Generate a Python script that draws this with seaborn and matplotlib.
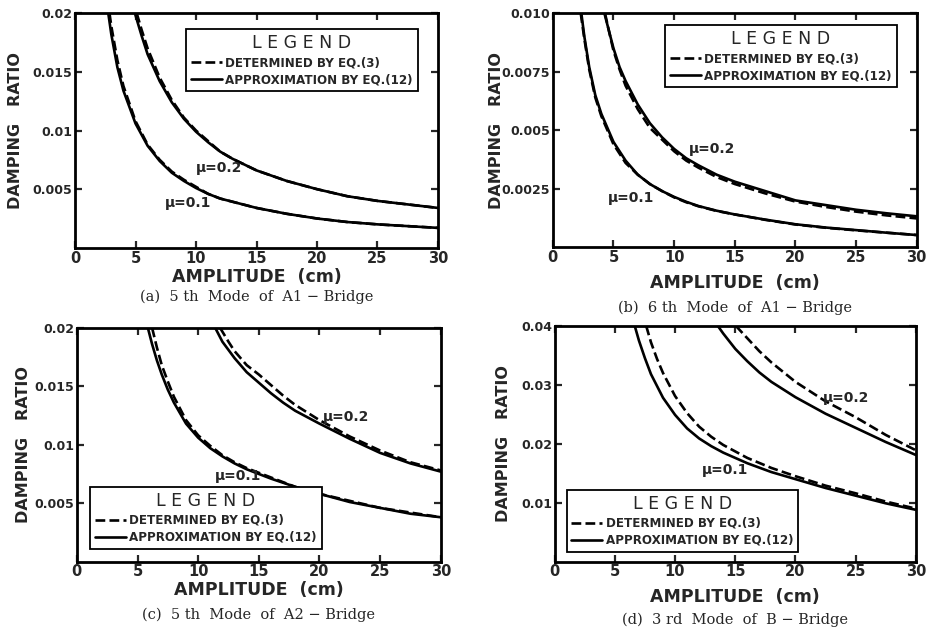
import numpy as np
import pandas as pd
import seaborn as sns
import matplotlib.pyplot as plt
from matplotlib.lines import Line2D

# === data ===
# (a) 5th mode of A1-Bridge
a_x1_s = [2.75, 3, 3.5, 4, 5, 6, 7, 8, 9, 10, 11, 12, 13.5, 15, 17.5, 20, 22.5, 25, 27.5, 30]
a_y1_s = [0.0200, 0.0182, 0.0154, 0.0134, 0.0106, 0.0087, 0.0074, 0.0064, 0.0057, 0.0051, 0.0046, 0.0042, 0.0038, 0.0034, 0.0029, 0.0025, 0.0022, 0.0020, 0.00185, 0.0017]
a_x1_d = [2.85, 3, 3.5, 4, 5, 6, 7, 8, 9, 10, 11, 12, 13.5, 15, 17.5, 20, 22.5, 25, 27.5, 30]
a_y1_d = [0.0200, 0.0189, 0.0160, 0.0138, 0.0108, 0.0088, 0.0075, 0.0065, 0.0058, 0.0052, 0.0046, 0.0042, 0.0038, 0.0034, 0.0029, 0.0025, 0.0022, 0.0020, 0.00185, 0.0017]
a_x2_s = [4.95, 5.5, 6, 7, 8, 9, 10, 11, 12, 13, 14, 15, 17.5, 20, 22.5, 25, 27.5, 30]
a_y2_s = [0.0200, 0.0181, 0.0165, 0.0142, 0.0124, 0.0110, 0.0099, 0.0090, 0.0082, 0.0076, 0.0071, 0.0066, 0.0057, 0.0050, 0.0044, 0.0040, 0.0037, 0.0034]
a_x2_d = [5.1, 5.5, 6, 7, 8, 9, 10, 11, 12, 13, 14, 15, 17.5, 20, 22.5, 25, 27.5, 30]
a_y2_d = [0.0200, 0.0186, 0.0170, 0.0145, 0.0126, 0.0111, 0.0100, 0.0091, 0.0082, 0.0076, 0.0071, 0.0066, 0.0057, 0.0050, 0.0044, 0.0040, 0.0037, 0.0034]

# (b) 6th mode of A1-Bridge
b_x1_s = [2.35, 2.6, 3, 3.5, 4, 5, 6, 7, 8, 9, 10, 11, 12, 13.5, 15, 17.5, 20, 22.5, 25, 27.5, 30]
b_y1_s = [0.0100, 0.0090, 0.0077, 0.0065, 0.0057, 0.0045, 0.0037, 0.0031, 0.0027, 0.0024, 0.00215, 0.00194, 0.00176, 0.00156, 0.0014, 0.00118, 0.00098, 0.00084, 0.00073, 0.00062, 0.00052]
b_x1_d = [2.3, 2.6, 3, 3.5, 4, 5, 6, 7, 8, 9, 10, 11, 12, 13.5, 15, 17.5, 20, 22.5, 25, 27.5, 30]
b_y1_d = [0.0100, 0.0089, 0.0076, 0.0064, 0.0056, 0.0044, 0.0036, 0.0031, 0.0027, 0.0024, 0.00213, 0.00192, 0.00175, 0.00155, 0.0014, 0.00117, 0.00097, 0.00083, 0.00072, 0.00062, 0.00052]
b_x2_s = [4.25, 4.6, 5, 5.5, 6, 7, 8, 9, 10, 11, 12, 13.5, 15, 17.5, 20, 22.5, 25, 27.5, 30]
b_y2_s = [0.0100, 0.0093, 0.0085, 0.0077, 0.0071, 0.0061, 0.0053, 0.0047, 0.0042, 0.0038, 0.0035, 0.0031, 0.0028, 0.0024, 0.0020, 0.0018, 0.0016, 0.00145, 0.00132]
b_x2_d = [4.3, 4.6, 5, 5.5, 6, 7, 8, 9, 10, 11, 12, 13.5, 15, 17.5, 20, 22.5, 25, 27.5, 30]
b_y2_d = [0.0100, 0.0093, 0.0084, 0.0076, 0.0069, 0.0059, 0.0051, 0.0046, 0.0041, 0.0037, 0.0034, 0.0030, 0.0027, 0.0023, 0.00195, 0.00172, 0.00152, 0.00136, 0.00123]

# (c) 5th mode of A2-Bridge
c_x1_s = [5.85, 6.2, 6.6, 7, 7.5, 8, 9, 10, 11, 12, 13, 14, 15, 16, 18, 20, 22.5, 25, 27.5, 30]
c_y1_s = [0.0200, 0.0186, 0.0172, 0.0160, 0.0147, 0.0136, 0.0118, 0.0106, 0.0097, 0.0090, 0.0084, 0.0079, 0.0075, 0.0071, 0.0064, 0.0058, 0.0051, 0.0046, 0.0041, 0.0038]
c_x1_d = [6.2, 6.6, 7, 7.5, 8, 9, 10, 11, 12, 13, 14, 15, 16, 18, 20, 22.5, 25, 27.5, 30]
c_y1_d = [0.0200, 0.0183, 0.0168, 0.0154, 0.0141, 0.0121, 0.0108, 0.0099, 0.0091, 0.0085, 0.0080, 0.0076, 0.0072, 0.0064, 0.0058, 0.0052, 0.0046, 0.0042, 0.0038]
c_x2_s = [11.4, 12, 13, 14, 15, 16, 17, 18, 20, 22.5, 25, 27.5, 30]
c_y2_s = [0.0200, 0.0188, 0.0174, 0.0162, 0.0153, 0.0144, 0.0136, 0.0129, 0.0118, 0.0105, 0.0093, 0.0084, 0.0077]
c_x2_d = [11.8, 12.5, 13, 14, 15, 16, 17, 18, 20, 22.5, 25, 27.5, 30]
c_y2_d = [0.0200, 0.0188, 0.0180, 0.0168, 0.0160, 0.0151, 0.0142, 0.0134, 0.0121, 0.0107, 0.0095, 0.0085, 0.0078]

# (d) 3rd mode of B-Bridge
d_x1_s = [6.65, 7, 7.5, 8, 9, 10, 11, 12, 13, 14, 16, 18, 20, 22.5, 25, 27.5, 30]
d_y1_s = [0.0400, 0.0375, 0.0345, 0.0318, 0.0278, 0.0249, 0.0226, 0.0209, 0.0196, 0.0185, 0.0167, 0.0152, 0.0140, 0.0125, 0.0112, 0.0099, 0.0088]
d_x1_d = [7.6, 8, 8.5, 9, 10, 11, 12, 13, 14, 16, 18, 20, 22.5, 25, 27.5, 30]
d_y1_d = [0.0400, 0.0372, 0.0344, 0.0320, 0.0281, 0.0252, 0.0229, 0.0212, 0.0198, 0.0176, 0.0159, 0.0145, 0.0129, 0.0116, 0.0102, 0.0090]
d_x2_s = [13.55, 14, 15, 16, 17, 18, 20, 22.5, 25, 27.5, 30]
d_y2_s = [0.0400, 0.0387, 0.0361, 0.0340, 0.0321, 0.0305, 0.0279, 0.0251, 0.0227, 0.0203, 0.0181]
d_x2_d = [15.05, 15.5, 16, 17, 18, 20, 22.5, 25, 27.5, 30]
d_y2_d = [0.0400, 0.0390, 0.0379, 0.0357, 0.0338, 0.0305, 0.0272, 0.0245, 0.0215, 0.0189]

x_ticks = [0, 5, 10, 15, 20, 25, 30]
a_yticks = [0.005, 0.01, 0.015, 0.02]
a_ylabels = ["0.005", "0.01", "0.015", "0.02"]
b_yticks = [0.0025, 0.005, 0.0075, 0.010]
b_ylabels = ["0.0025", "0.005", "0.0075", "0.010"]
c_yticks = [0.005, 0.01, 0.015, 0.02]
c_ylabels = ["0.005", "0.01", "0.015", "0.02"]
d_yticks = [0.01, 0.02, 0.03, 0.04]
d_ylabels = ["0.01", "0.02", "0.03", "0.04"]

captions = ["(a)  5 th  Mode  of  A1 − Bridge", "(b)  6 th  Mode  of  A1 − Bridge",
            "(c)  5 th  Mode  of  A2 − Bridge", "(d)  3 rd  Mode  of  B − Bridge"]
leg_dashed = "DETERMINED BY EQ.(3)"
leg_solid = "APPROXIMATION BY EQ.(12)"

# === style ===
sns.set_style("ticks")
plt.rcParams["font.family"] = ["DejaVu Sans"]

fig = plt.figure(figsize=(9.26, 6.29), dpi=100)
ax_a = fig.add_axes([0.081, 0.606, 0.392, 0.373])
ax_b = fig.add_axes([0.597, 0.607, 0.393, 0.372])
ax_c = fig.add_axes([0.083, 0.107, 0.393, 0.372])
ax_d = fig.add_axes([0.599, 0.107, 0.390, 0.375])

panels = [
    (ax_a, [(a_x1_s, a_y1_s, "-"), (a_x1_d, a_y1_d, "--"), (a_x2_s, a_y2_s, "-"), (a_x2_d, a_y2_d, "--")],
     0.02, a_yticks, a_ylabels, [(10.0, 0.0068), (7.4, 0.0038)]),
    (ax_b, [(b_x1_s, b_y1_s, "-"), (b_x1_d, b_y1_d, "--"), (b_x2_s, b_y2_s, "-"), (b_x2_d, b_y2_d, "--")],
     0.01, b_yticks, b_ylabels, [(11.2, 0.0042), (4.5, 0.0021)]),
    (ax_c, [(c_x1_s, c_y1_s, "-"), (c_x1_d, c_y1_d, "--"), (c_x2_s, c_y2_s, "-"), (c_x2_d, c_y2_d, "--")],
     0.02, c_yticks, c_ylabels, [(20.3, 0.0124), (11.4, 0.0073)]),
    (ax_d, [(d_x1_s, d_y1_s, "-"), (d_x1_d, d_y1_d, "--"), (d_x2_s, d_y2_s, "-"), (d_x2_d, d_y2_d, "--")],
     0.04, d_yticks, d_ylabels, [(22.3, 0.0278), (12.2, 0.0156)]),
]

# legend upper-left corner in axes coords
leg_anchor = [(0.306, 0.932), (0.308, 0.949), (0.036, 0.320), (0.033, 0.305)]
xlabel_y = [277, 283, 590, 597]
caption_y = [297, 308, 615, 620]
ylabel_x = [16, 496, 24, 503]

for i, (ax, curves, ymax, yt, yl, mu_pos) in enumerate(panels):
    for xs, ys, ls in curves:
        sns.lineplot(x=xs, y=ys, ax=ax, color="black", linewidth=1.9,
                     linestyle=ls, estimator=None, sort=False)
    ax.set_xlim(0, 30)
    ax.set_ylim(0, ymax)
    ax.set_xticks(x_ticks)
    ax.set_xticklabels([str(t) for t in x_ticks], fontsize=10.5, fontweight="bold")
    ax.set_yticks(yt)
    ax.set_yticklabels(yl, fontsize=9, fontweight="bold")
    ax.tick_params(direction="in", length=5, width=1.6, top=True, right=True, pad=2)
    for sp in ax.spines.values():
        sp.set_visible(True)
        sp.set_linewidth(2)
        sp.set_color("black")
    ax.set_xlabel("")
    ax.set_ylabel("")

    ax.text(mu_pos[0][0], mu_pos[0][1], "μ=0.2", fontsize=10, fontweight="bold", va="center")
    ax.text(mu_pos[1][0], mu_pos[1][1], "μ=0.1", fontsize=10, fontweight="bold", va="center")

    handles = [Line2D([], [], color="black", linestyle="--", linewidth=1.9),
               Line2D([], [], color="black", linestyle="-", linewidth=1.9)]
    leg = ax.legend(handles, [leg_dashed, leg_solid], title="L E G E N D",
                    loc="upper left", bbox_to_anchor=leg_anchor[i], frameon=True,
                    fancybox=False, edgecolor="black", framealpha=1,
                    fontsize=8.6, title_fontsize=12.5, handlelength=2.6,
                    handletextpad=0.3, borderpad=0.4, labelspacing=0.35,
                    borderaxespad=0)
    leg.get_frame().set_linewidth(1.3)
    for t in leg.get_texts():
        t.set_fontweight("bold")

    pos = ax.get_position()
    cx = (pos.x0 + pos.x1) / 2
    fig.text(cx, 1 - xlabel_y[i] / 629, "AMPLITUDE  (cm)", ha="center", va="center",
             fontsize=12.5, fontweight="bold")
    fig.text(cx, 1 - caption_y[i] / 629, captions[i], ha="center", va="center",
             fontsize=10.5, family="DejaVu Serif")
    fig.text(ylabel_x[i] / 926, (pos.y0 + pos.y1) / 2, "DAMPING   RATIO", rotation=90,
             ha="center", va="center", fontsize=11.5, fontweight="bold")

fig.savefig("out.png", dpi=100)
